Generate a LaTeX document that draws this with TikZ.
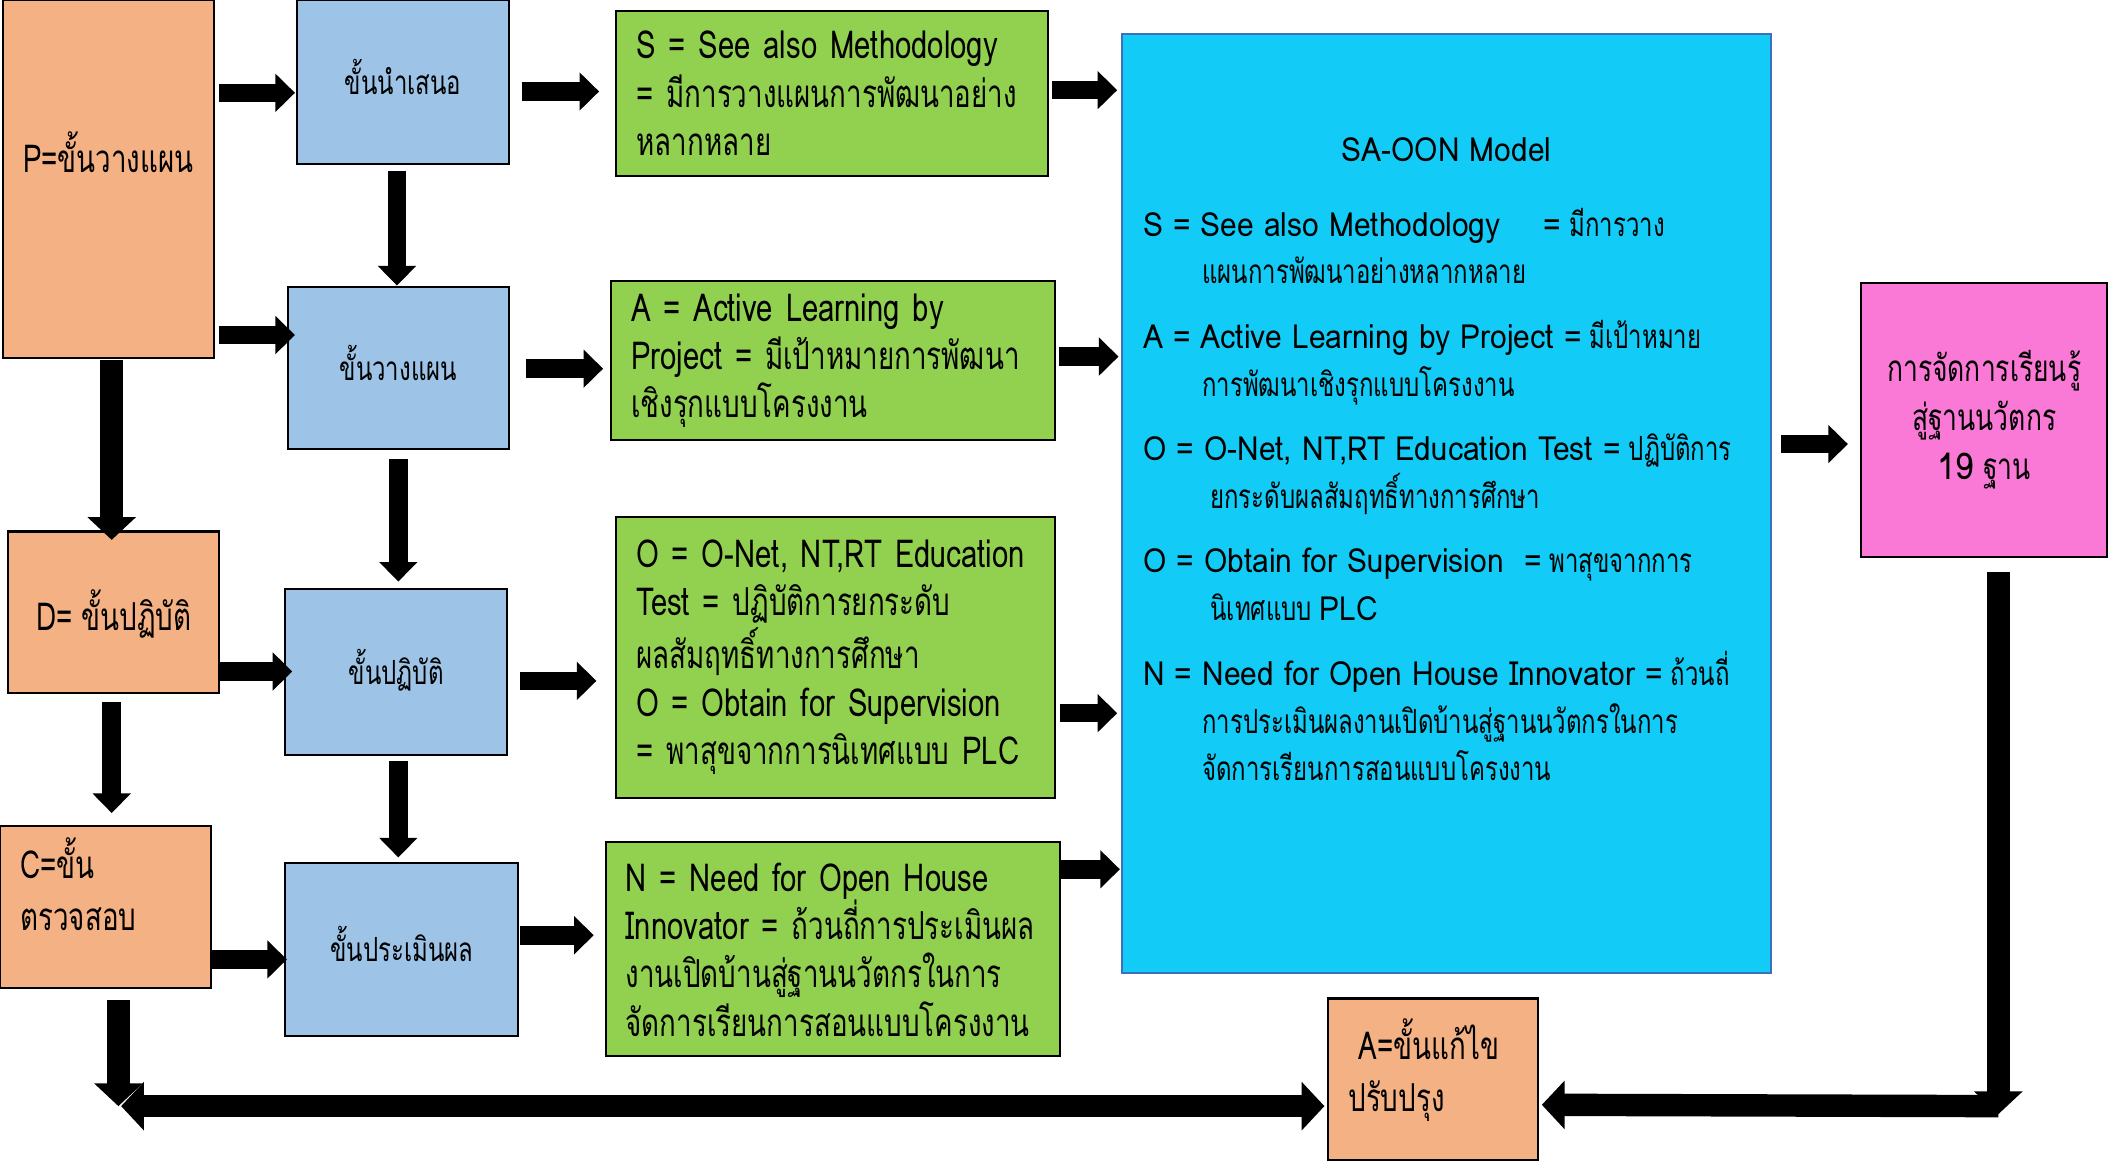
\documentclass[tikz,border=0pt]{standalone}
\usepackage{fontspec}
\setmainfont[Script=Thai]{Loma}
\newfontfamily\thaicond[Script=Thai,FakeStretch=0.72]{Loma}
\newfontfamily\notelatin[FakeStretch=0.76]{Loma}
\newfontfamily\modellatin[FakeStretch=0.9]{Loma}
\usetikzlibrary{arrows.meta,calc}
\definecolor{stageorange}{HTML}{F4B183}
\definecolor{stepblue}{HTML}{9DC3E6}
\definecolor{notegreen}{HTML}{92D050}
\definecolor{modelcyan}{HTML}{12CBF6}
\definecolor{resultpink}{HTML}{FA78D6}
\definecolor{modelline}{HTML}{3F6FB8}
\newcommand{\px}{0.0135cm}
\newcommand{\nl}[1]{{\notelatin #1}}
\newcommand{\ml}[1]{{\modellatin #1}}
\begin{document}
\begin{tikzpicture}[x=0.0135cm,y=-0.0135cm,
  every node/.style={font=\thaicond\fontsize{11}{13.8}\selectfont},
  box/.style={draw=black,line width=0.6pt,inner sep=0pt},
  stage/.style={box,fill=stageorange},
  stepbox/.style={box,fill=stepblue,text height=8pt,text depth=1pt,font=\thaicond\fontsize{9.5}{13}\selectfont},
  notebox/.style={box,fill=notegreen,align=left},
  modeltext/.style={font=\thaicond\fontsize{9.5}{13.63}\selectfont},
  arr/.style={line width=5.3pt,>={Triangle[width=10.6pt,length=5.6pt]},->},
  bigarr/.style={line width=6.4pt,>={Triangle[width=13.5pt,length=6.5pt]},->}]
\useasboundingbox (0,0) rectangle (1568,864);
% stages
\node[stage,minimum width=157*\px,minimum height=266*\px,align=center] (P) at (80.5,133) {P=ขั้นวางแผน\\[1.6pt]\mbox{}};
\node[stage,minimum width=157*\px,minimum height=120*\px,text height=12pt,text depth=1.4pt] (D) at (84.5,455) {D= ขั้นปฏิบัติ};
\node[stage,minimum width=157*\px,minimum height=120*\px,text width=1.71cm,align=left,
  font=\thaicond\fontsize{11}{15}\selectfont] (C) at (78.5,674) {C=ขั้น\\ตรวจสอบ\\[-2pt]\mbox{}};
\node[stage,minimum width=156*\px,minimum height=120*\px,text width=1.70cm,align=left,
  font=\thaicond\fontsize{11}{15}\selectfont] (A) at (1065,802) {\hspace*{3pt}A=ขั้นแก้ไข\\ปรับปรุง\\[-7pt]\mbox{}};
% steps
\node[stepbox,minimum width=157*\px,minimum height=122*\px] (b1) at (299.5,61) {ขั้นนำเสนอ};
\node[stepbox,minimum width=164*\px,minimum height=121*\px] (b2) at (296,273.5) {ขั้นวางแผน};
\node[stepbox,minimum width=165*\px,minimum height=123*\px] (b3) at (294.5,499.5) {ขั้นปฏิบัติ};
\node[stepbox,minimum width=173*\px,minimum height=129*\px] (b4) at (298.5,705.5) {ขั้นประเมินผล};
% notes
\node[notebox,minimum width=321*\px,minimum height=123*\px,text width=3.93cm] (g1) at (618.5,69.5)
  {\nl{S = See also Methodology}\\\nl{=} มีการวางแผนการพัฒนาอย่าง\\หลากหลาย};
\node[notebox,minimum width=330*\px,minimum height=118*\px,text width=4.05cm] (g2) at (619,268)
  {\nl{A = Active Learning by}\\\nl{Project =} มีเป้าหมายการพัฒนา\\เชิงรุกแบบโครงงาน};
\node[notebox,minimum width=326*\px,minimum height=209*\px,text width=4.0cm] (g3) at (621,488.5)
  {\nl{O = O-Net, NT,RT Education}\\\nl{Test =} ปฏิบัติการยกระดับ\\ผลสัมฤทธิ์ทางการศึกษา\\\nl{O = Obtain for Supervision}\\\nl{=} พาสุขจากการนิเทศแบบ \nl{PLC}};
\node[notebox,minimum width=338*\px,minimum height=159*\px,text width=4.16cm] (g4) at (619,705.5)
  {\nl{N = Need for Open House}\\\nl{Innovator =} ถ้วนถี่การประเมินผล\\งานเปิดบ้านสู่ฐานนวัตกรในการ\\จัดการเรียนการสอนแบบโครงงาน};
% model
\node[box,draw=modelline,fill=modelcyan,minimum width=482*\px,minimum height=698*\px] (sa) at (1075,374) {};
\node[modeltext] (satitle) at (1075,111) {\ml{SA-OON Model}};
\node[modeltext,anchor=north west,align=left,inner sep=0pt] (salist) at (849,154)
  {\ml{S = See also Methodology\quad\ =} มีการวาง\\\hspace*{16.9pt}แผนการพัฒนาอย่างหลากหลาย\\[4.8pt]
   \ml{A = Active Learning by Project =} มีเป้าหมาย\\\hspace*{16.9pt}การพัฒนาเชิงรุกแบบโครงงาน\\[4.8pt]
   \ml{O = O-Net, NT,RT Education Test =} ปฏิบัติการ\\\hspace*{19.2pt}ยกระดับผลสัมฤทธิ์ทางการศึกษา\\[4.8pt]
   \ml{O = Obtain for Supervision\ \ =} พาสุขจากการ\\\hspace*{19.2pt}นิเทศแบบ \ml{PLC}\\[4.8pt]
   \ml{N = Need for Open House Innovator =} ถ้วนถี่\\\hspace*{16.9pt}การประเมินผลงานเปิดบ้านสู่ฐานนวัตกรในการ\\\hspace*{16.9pt}จัดการเรียนการสอนแบบโครงงาน};
\node[box,fill=resultpink,minimum width=183*\px,minimum height=204*\px,align=center,
  font=\thaicond\fontsize{10.5}{14}\selectfont] (pink) at (1474.5,312) {การจัดการเรียนรู้\\สู่ฐานนวัตกร\\\ml{19} ฐาน};
\coordinate (pinkcorner) at (1485,822);
\coordinate (ccorner) at (88,822);
% arrows
\draw[arr] ($(P.east |- b1.west)+(3,8)$) -- ($(b1.west)+(-1,8)$);
\draw[arr] ($(b1.east)+(9,7)$) -- ($(g1.west)+(-12,-1.5)$);
\draw[arr] ($(g1.east)+(2,-2.5)$) -- ($(g1.east -| sa.west)+(-3,-2.5)$);
\draw[arr] ($(b1.south)+(-4.5,4)$) -- ($(b2.north)+(-1,0)$);
\draw[arr] ($(P.east |- b2.west)+(3,-24.5)$) -- ($(b2.west)+(6,-24.5)$);
\draw[arr] ($(b2.east)+(12,0.5)$) -- ($(g2.west)+(-5,6)$);
\draw[arr] ($(g2.east)+(2,-3)$) -- ($(g2.east -| sa.west)+(-2,-3)$);
\draw[bigarr] ($(P.south)+(2.5,1)$) -- ($(D.north)+(-1.5,7)$);
\draw[arr] ($(b2.south)+(0,6)$) -- ($(b3.north)+(1.5,-5)$);
\draw[arr] ($(D.east)+(0,44)$) -- ($(b3.west)+(6,-0.5)$);
\draw[arr] ($(b3.east)+(9,6.5)$) -- ($(g3.west)+(-14,17.5)$);
\draw[arr] ($(g3.east)+(3,41.5)$) -- ($(g3.east -| sa.west)+(-3,41.5)$);
\draw[arr] ($(D.south)+(-1.5,6)$) -- ($(C.north)+(4.5,-9)$);
\draw[arr] ($(b3.south)+(1.5,4)$) -- ($(b4.north)+(-2.5,-3)$);
\draw[arr] ($(C.east)+(0,39)$) -- ($(b4.west)+(2,7.5)$);
\draw[arr] ($(b4.east)+(1,-10.5)$) -- ($(g4.west)+(-8,-10.5)$);
\draw[arr] ($(g4.east)+(-2,-59.5)$) -- ($(g4.east -| sa.west)+(-1,-59.5)$);
\draw[arr] ($(sa.east)+(7,-44)$) -- ($(sa.east -| pink.west)+(-9,-44)$);
\draw[bigarr] ($(pink.south)+(10.5,10)$) -- ($(pinkcorner)+(0,6)$);
\draw[bigarr] (pinkcorner) -- ($(A.east)+(2,19)$);
\draw[bigarr] ($(C.south)+(9.5,8)$) -- (ccorner);
\draw[bigarr,<->] ($(ccorner)+(2,0)$) -- ($(A.west)+(-2,20)$);
\end{tikzpicture}
\end{document}
